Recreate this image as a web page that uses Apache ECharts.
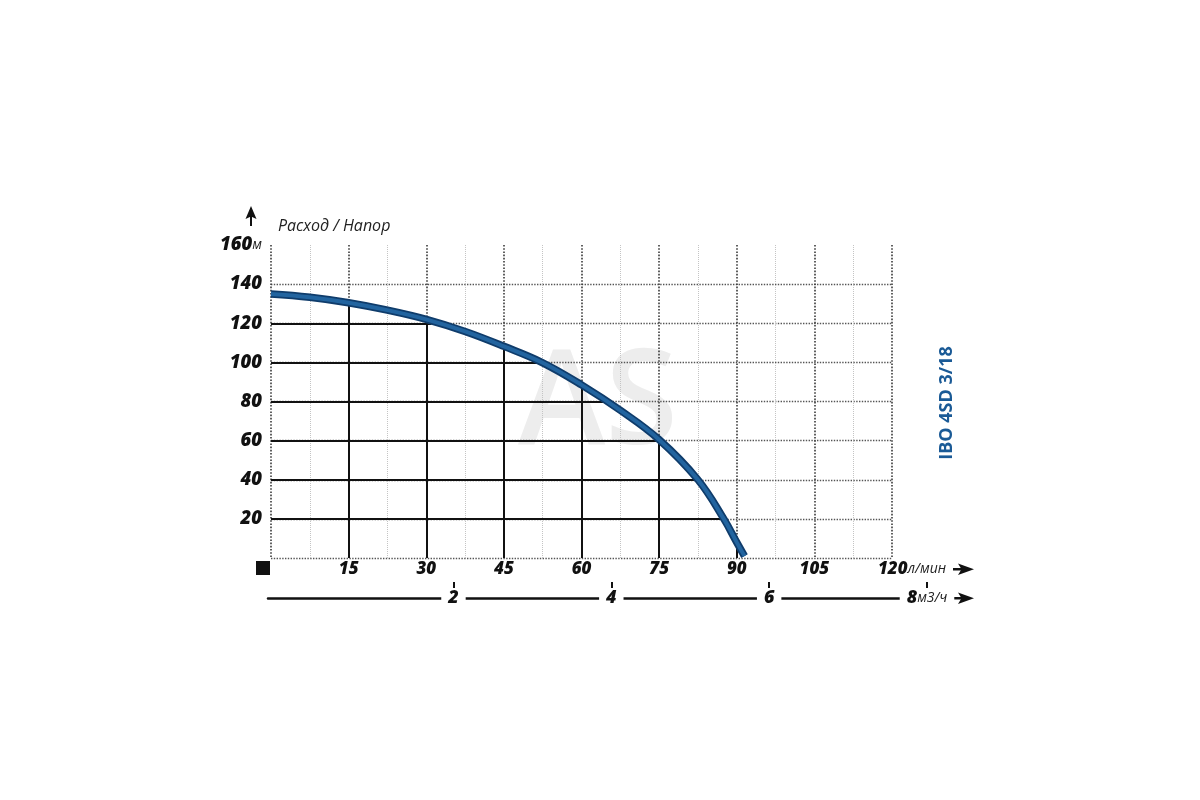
<!DOCTYPE html>
<html><head><meta charset="utf-8">
<script src="https://cdn.jsdelivr.net/npm/echarts@6/dist/echarts.min.js"></script>
<style>html,body{margin:0;background:#fff}#c{width:1200px;height:800px}</style>
</head><body><div id="c"></div>
<script>
// Pump curve IBO 4SD 3/18 : flow (l/min) vs head (m)
const flowLpm = [0, 7.5, 15, 22.5, 30, 37.5, 45, 52.5, 60, 67.5, 75, 82.5, 87.5, 90, 91.5];
const headM   = [135, 133.3, 130.5, 126.7, 122, 115.8, 108.2, 99.8, 88.5, 75.5, 60.5, 40, 20, 8, 1];
// solid reference lines: verticals from axis up to curve, horizontals from axis to curve
const dropFlow  = [15, 30, 45, 60, 75, 90];
const dropHead  = [130.5, 122, 108, 88.5, 60.5, 7.5];
const levelHead = [120, 100, 80, 60, 40, 20];
const levelFlow = [31, 52.5, 65.4, 75.2, 82, 87.3];
// secondary flow scale (m3/h) tick labels
const m3hTicks = [2, 4, 6, 8];
const titleText = 'Расход / Напор';
const modelText = 'IBO 4SD 3/18';

const FONT = "'Open Sans', 'DejaVu Sans', sans-serif";
const numStyle = {fontFamily: FONT, fontSize: 17, fontWeight: 800, fontStyle: 'italic', color: '#111'};
const yNumStyle = {fontFamily: FONT, fontSize: 18.5, fontWeight: 800, fontStyle: 'italic', color: '#111'};
const unitStyle = {fontFamily: FONT, fontSize: 14, fontWeight: 'normal', fontStyle: 'italic', color: '#222'};

const curveData = flowLpm.map((x, i) => [x, headM[i]]);
const refLines = [];
dropFlow.forEach((x, i) => refLines.push({coords: [[x, 0], [x, dropHead[i]]]}));
levelHead.forEach((y, i) => refLines.push({coords: [[0, y], [levelFlow[i], y]]}));

const chart = echarts.init(document.getElementById('c'), null, {renderer: 'canvas'});
chart.setOption({
  animation: false,
  backgroundColor: '#fff',
  grid: [
    {left: 271, top: 245, width: 621, height: 313},
    {left: 268, top: 597, width: 659, height: 1}
  ],
  xAxis: [
    {
      type: 'value', gridIndex: 0, min: 0, max: 120, interval: 15,
      axisLine: {show: false}, axisTick: {show: false},
      minorTick: {show: false, splitNumber: 2},
      minorSplitLine: {show: true, lineStyle: {color: '#c4c4c4', type: 'dotted', width: 1}},
      splitLine: {show: true, lineStyle: {color: '#3a3a3a', type: 'dotted', width: 1.6}},
      axisLabel: {
        margin: 3, ...numStyle,
        formatter: v => v === 0 ? '{sq|}{sp|}' : (v === 120 ? '{sp2|}{b|120}{u|л/мин}' : '{b|' + v + '}'),
        rich: {
          b: numStyle,
          u: unitStyle,
          sq: {width: 14, height: 14, backgroundColor: '#111'},
          sp: {width: 16, height: 14},
          sp2: {width: 40}
        }
      }
    },
    {
      type: 'value', gridIndex: 1, min: -0.35, max: 8, position: 'bottom',
      axisLine: {show: true, lineStyle: {color: '#111', width: 2.5}},
      axisTick: {show: true, inside: true, length: 16, customValues: m3hTicks, lineStyle: {color: '#111', width: 2}},
      splitLine: {show: false},
      axisLabel: {
        customValues: m3hTicks, margin: 0, verticalAlign: 'middle', ...numStyle,
        backgroundColor: '#fff', padding: [1, 7], lineHeight: 18,
        formatter: v => v === 8 ? '{b|8}{u|м3/ч}' : '{b|' + v + '}',
        rich: {b: {...numStyle, fontSize: 18, lineHeight: 18}, u: {...unitStyle, lineHeight: 18}}
      }
    }
  ],
  yAxis: [
    {
      type: 'value', gridIndex: 0, min: 0, max: 160, interval: 20,
      axisLine: {show: false}, axisTick: {show: false},
      splitLine: {show: true, showMaxLine: false, lineStyle: {color: '#555', type: 'dotted', width: 1.4}},
      axisLabel: {
        margin: 9, ...yNumStyle,
        formatter: v => v === 0 ? '' : (v === 160 ? '{b|160}{u|м}' : '{b|' + v + '}'),
        rich: {b: yNumStyle, u: unitStyle}
      }
    },
    {type: 'value', gridIndex: 1, show: false, min: 0, max: 1}
  ],
  series: [
    {
      type: 'lines', coordinateSystem: 'cartesian2d', xAxisIndex: 0, yAxisIndex: 0,
      silent: true, z: 3,
      lineStyle: {color: '#111', width: 2, opacity: 1},
      data: refLines
    },
    {
      type: 'line', xAxisIndex: 0, yAxisIndex: 0, data: curveData, smooth: 0.4,
      showSymbol: false, silent: true, z: 4,
      lineStyle: {color: '#0f3c6b', width: 7.5, cap: 'butt'}
    },
    {
      type: 'line', xAxisIndex: 0, yAxisIndex: 0, data: curveData, smooth: 0.4,
      showSymbol: false, silent: true, z: 5,
      lineStyle: {color: '#22649f', width: 4, cap: 'butt'}
    }
  ],
  graphic: [
    {type: 'text', z: -10, left: 518, top: 340,
     style: {text: 'AS', font: "600 132px 'Open Sans', sans-serif", fill: '#ededed'}},
    {type: 'text', x: 278, y: 226,
     style: {text: titleText, font: "italic 16px 'Open Sans', sans-serif", fill: '#222', verticalAlign: 'middle'}},
    {type: 'polygon', shape: {points: [[251, 206], [245.5, 219], [251, 216.5], [256.5, 219]]}, style: {fill: '#111'}},
    {type: 'rect', shape: {x: 250, y: 215, width: 2, height: 11}, style: {fill: '#111'}},
    {type: 'text', x: 947, y: 403, rotation: Math.PI / 2,
     style: {text: modelText, font: "bold 18px 'Open Sans', sans-serif", fill: '#1a5a96', align: 'center', verticalAlign: 'middle'}},
    {type: 'rect', shape: {x: 953, y: 568, width: 9, height: 2.5}, style: {fill: '#111'}},
    {type: 'polygon', shape: {points: [[958, 563.5], [974, 569.2], [958, 575], [961.5, 569.2]]}, style: {fill: '#111'}},
    {type: 'rect', shape: {x: 953, y: 597, width: 9, height: 2.5}, style: {fill: '#111'}},
    {type: 'polygon', shape: {points: [[958, 592.5], [974, 598.2], [958, 604], [961.5, 598.2]]}, style: {fill: '#111'}}
  ]
});
</script>
</body></html>
